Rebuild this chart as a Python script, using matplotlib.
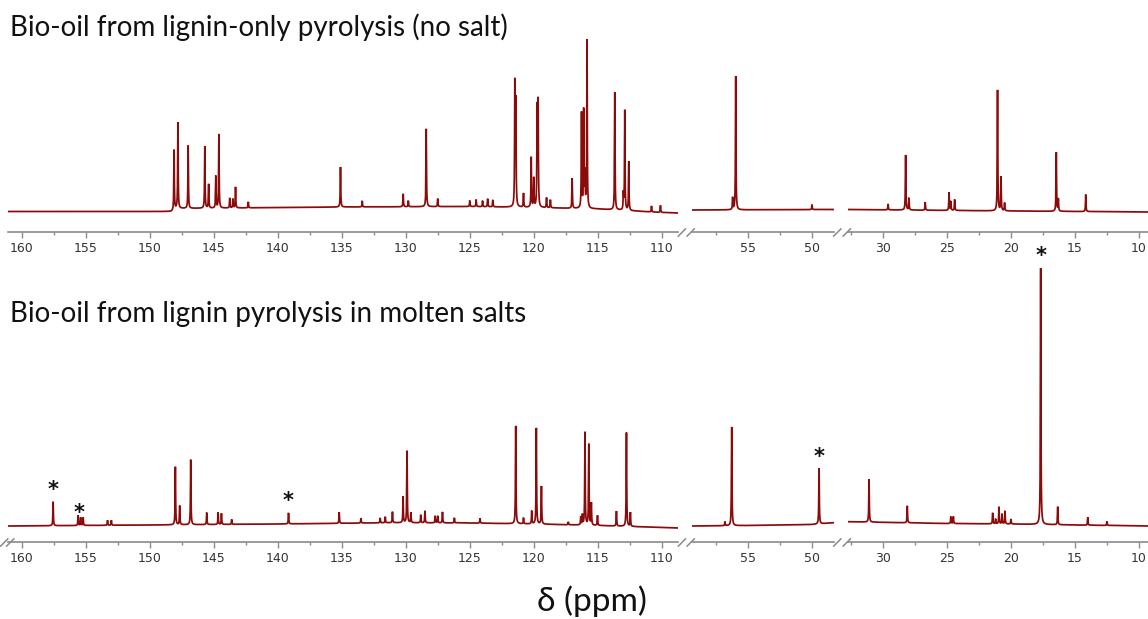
import numpy as np
import matplotlib
matplotlib.use("Agg")
import matplotlib.pyplot as plt
from matplotlib.ticker import MultipleLocator
from matplotlib.lines import Line2D

# ---------------- data (ppm, intensity in arbitrary units) ----------------
# Axis segments of the broken chemical-shift axis (left ppm, right ppm)
segments = [(161.1, 108.7), (59.4, 48.3), (32.75, 9.3)]

# Top spectrum: lignin-only pyrolysis (no salt)
top_peak_ppm = [148.1, 147.8, 147.0, 145.7, 145.4, 144.84, 144.6, 143.75, 143.5, 143.3,
                142.3, 135.1, 133.4, 130.2, 129.8, 128.4, 127.5, 125.0, 124.5, 124.0,
                123.6, 123.2, 121.48, 121.4, 120.8, 120.2, 120.0, 119.74, 119.66, 119.0,
                118.7, 117.0, 116.27, 116.1, 116.0, 115.84, 113.67, 113.0, 112.89, 112.58,
                110.8, 110.1,
                56.2, 55.96, 50.0,
                29.6, 28.23, 27.97, 26.7, 24.84, 24.7, 24.4, 21.05, 20.78, 20.5,
                16.46, 16.3, 14.16]
top_peak_int = [60, 86, 63, 62, 24, 32, 74, 10, 9, 21,
                6, 40, 6, 13, 6, 78, 8, 6, 7, 6,
                8, 7, 122, 104, 14, 50, 29, 98, 104, 10,
                8, 30, 95, 97, 33, 168, 118, 16, 100, 49,
                6, 7,
                12, 134, 5,
                6, 55, 12, 8, 18, 9, 11, 121, 34, 8,
                59, 12, 17]
top_base_ppm = [161.1, 148.3, 147.9, 135.0, 125.0, 120.0, 115.0, 110.0, 108.7,
                59.4, 48.3, 32.75, 20.0, 9.3]
top_base_int = [-0.5, -0.5, 2.5, 4.0, 4.5, 3.5, 2.0, -1.5, -2.0,
                1.0, 1.5, 1.5, 0.0, -1.0]

# Bottom spectrum: lignin pyrolysis in molten salts
bot_peak_ppm = [157.55, 155.6, 155.4, 155.2, 153.3, 153.0, 148.0, 147.66, 146.8, 145.55,
                144.66, 144.4, 143.6, 139.16, 135.2, 133.5, 132.0, 131.6, 131.04, 130.21,
                129.9, 129.6, 128.83, 128.5, 127.7, 127.5, 127.13, 126.2, 124.2, 121.41,
                120.8, 120.16, 119.8, 119.4, 117.3, 116.33, 116.2, 116.0, 115.7, 115.5,
                115.02, 113.54, 112.76, 112.45,
                56.8, 56.3, 56.27, 49.45,
                31.09, 28.1, 24.7, 24.5, 21.43, 21.2, 20.94, 20.7, 20.47, 20.0,
                17.68, 16.35, 14.0, 12.5]
bot_peak_int = [24, 10, 8, 8, 5, 5, 58, 19, 65, 12,
                12, 11, 5, 11, 11, 5, 5, 6, 11, 26,
                72, 10, 8, 12, 7, 7, 11, 5, 5, 98,
                6, 13, 96, 38, 3, 8, 10, 93, 81, 22,
                10, 15, 94, 14,
                4, 8, 96, 56,
                43, 17, 7, 7, 11, 5, 17, 10, 13, 5,
                257, 18, 8, 4]
bot_base_ppm = [161.1, 150.0, 140.0, 131.0, 125.0, 120.0, 115.0, 110.0, 108.7,
                59.4, 55.0, 50.0, 48.3, 32.75, 25.0, 20.0, 15.0, 9.3]
bot_base_int = [-3.0, -2.0, -1.0, 0.3, 0.0, -1.0, -2.5, -4.5, -5.0,
                -3.0, -2.5, -1.5, 0.3, 1.3, -0.5, -1.0, -2.0, -3.0]

# peaks marked with an asterisk in the molten-salt spectrum
star_ppm = [157.55, 155.5, 139.16, 49.45, 17.68]

major_step = 5
minor_step = 2.5

titles = ["Bio-oil from lignin-only pyrolysis (no salt)",
          "Bio-oil from lignin pyrolysis in molten salts"]
xlabel = "δ (ppm)"

# ---------------- layout ----------------
W, H = 1148, 619
PX_PER_PPM = 12.8
seg_left_px = [7.7, 691.7, 847.8]
# (spine y px, zero-intensity y px, top y px)
panels = [(232, 211, 20), (542, 523, 250)]
LINE = "#8b0a0a"
GREY = "#8a8a8a"
HW = 0.022  # peak half width (ppm)

fig = plt.figure(figsize=(W / 100, H / 100), dpi=100)


def spectrum(x, pk_ppm, pk_int, b_ppm, b_int):
    bp = np.array(b_ppm)[::-1]
    bi = np.array(b_int)[::-1]
    y = np.interp(x, bp, bi)
    for p, h in zip(pk_ppm, pk_int):
        y = y + h * HW ** 2 / ((x - p) ** 2 + HW ** 2)
    return y


def fx(px):
    return px / W


def fy(py):
    return (H - py) / H


def slash(cx, cy, half=3.6):
    fig.add_artist(Line2D([fx(cx - half), fx(cx + half)], [fy(cy + half), fy(cy - half)],
                          transform=fig.transFigure, color=GREY, lw=1.1))


datasets = [(top_peak_ppm, top_peak_int, top_base_ppm, top_base_int),
            (bot_peak_ppm, bot_peak_int, bot_base_ppm, bot_base_int)]

for pi, ((spine_px, zero_px, top_px), data) in enumerate(zip(panels, datasets)):
    ylo = -(spine_px - zero_px)
    yhi = zero_px - top_px
    for si, ((a, b), lpx) in enumerate(zip(segments, seg_left_px)):
        wpx = (a - b) * PX_PER_PPM
        ax = fig.add_axes([fx(lpx), fy(spine_px), wpx / W, (spine_px - top_px) / H])
        x = np.arange(b, a, 0.003)
        y = spectrum(x, *data)
        ax.plot(x, y, color=LINE, lw=1.25, solid_joinstyle="miter")
        ax.set_xlim(a, b)
        ax.set_ylim(ylo, yhi)
        ax.patch.set_alpha(0)
        for s in ("top", "left", "right"):
            ax.spines[s].set_visible(False)
        ax.spines["bottom"].set_color(GREY)
        ax.spines["bottom"].set_linewidth(1.2)
        ax.set_yticks([])
        ax.xaxis.set_major_locator(MultipleLocator(major_step))
        ax.xaxis.set_minor_locator(MultipleLocator(minor_step))
        ax.tick_params(axis="x", which="major", length=4.3, width=1.0, color=GREY,
                       labelsize=9, labelcolor="#333333", pad=3)
        ax.tick_params(axis="x", which="minor", length=2.3, width=1.0, color=GREY)
        for t in ax.get_xticklabels():
            t.set_fontfamily("DejaVu Sans")
        if pi == 1:
            for sp in star_ppm:
                if b <= sp <= a:
                    ytop = spectrum(np.array([sp]), *data)[0]
                    ax.annotate("*", xy=(sp, ytop), xytext=(0, 1), textcoords="offset points",
                                ha="center", va="bottom", fontsize=15, fontweight="bold",
                                color="#111111", annotation_clip=False)
        # break marks
        if si < len(segments) - 1:
            slash(lpx + wpx + 3.5, spine_px + 0.5)
        if si > 0:
            slash(lpx - 1, spine_px + 0.5)
        if si == 0 and pi == 1:
            slash(lpx - 3.5, spine_px + 0.5)
            slash(lpx + 2.5, spine_px + 0.5)

fam = ["Lato", "DejaVu Sans"]
fig.text(fx(10), fy(36), titles[0], family=fam, fontsize=20, color="#111111", va="baseline")
fig.text(fx(10), fy(322), titles[1], family=fam, fontsize=20, color="#111111", va="baseline")
fig.text(fx(592), fy(611), xlabel, family=fam, fontsize=24, color="#111111",
         ha="center", va="baseline")

fig.savefig("out.png", dpi=100)
